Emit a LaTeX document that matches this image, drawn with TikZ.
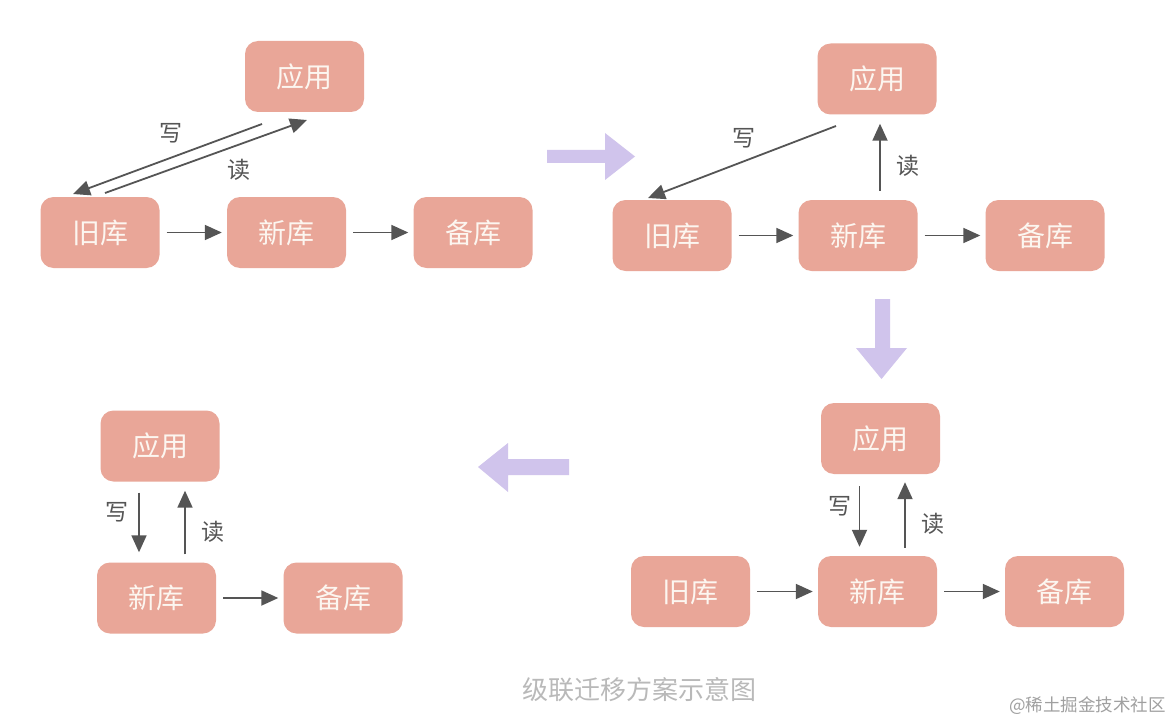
\documentclass[tikz,border=0pt]{standalone}
\usepackage{fontspec}
\setmainfont{Noto Sans CJK SC}
\newfontfamily\cjk{Noto Sans CJK SC}
\usetikzlibrary{arrows.meta}
\definecolor{boxfill}{RGB}{233,166,152}
\definecolor{boxtext}{RGB}{252,246,240}
\definecolor{arrgray}{RGB}{85,85,85}
\definecolor{bigarr}{RGB}{208,196,236}
\definecolor{captiongray}{RGB}{185,185,185}
\definecolor{wmgray}{RGB}{160,160,160}
\tikzset{
  dbbox/.style={rectangle, rounded corners=13pt, fill=boxfill, draw=none,
    minimum width=119pt, minimum height=71pt, inner sep=0pt,
    text=boxtext, font=\cjk\fontsize{28}{28}\selectfont},
  arr/.style={draw=arrgray, line width=1.8pt,
    -{Triangle[length=17pt 0 0,width=15pt 0 0]}},
  harr/.style={arr, shorten <=7pt, shorten >=5pt},
  lbl/.style={text=arrgray, font=\cjk\fontsize{23}{23}\selectfont, inner sep=0pt},
  bigarrow/.style={fill=bigarr, draw=none}
}
\begin{document}
\begin{tikzpicture}[x=1pt,y=-1pt]
\useasboundingbox (0,0) rectangle (1174,722);
\fill[white] (0,0) rectangle (1174,722);

% ---------- Panel 1 ----------
\node[dbbox] (a1) at (304.5,76.5) {应用};
\node[dbbox] (o1) at (100,232.5) {旧库};
\node[dbbox] (n1) at (286.5,232.5) {新库};
\node[dbbox] (b1) at (473,232.5) {备库};
\draw[harr] (o1) -- (n1);
\draw[harr] (n1) -- (b1);
\coordinate (w1s) at (262,124);
\coordinate (w1e) at (73,194);
\coordinate (r1s) at (105,193);
\coordinate (r1e) at (307,120);
\draw[arr] (w1s) -- (w1e);
\draw[arr] (r1s) -- (r1e);
\node[lbl] (wl1) at (171,133) {写};
\node[lbl] (rl1) at (239,170) {读};

% ---------- Panel 2 ----------
\node[dbbox] (a2) at (877,79) {应用};
\node[dbbox] (o2) at (672,235.5) {旧库};
\node[dbbox] (n2) at (858,235.5) {新库};
\node[dbbox] (b2) at (1045,235.5) {备库};
\draw[harr] (o2) -- (n2);
\draw[harr] (n2) -- (b2);
\coordinate (w2s) at (836,126);
\coordinate (w2e) at (648,198);
\draw[arr] (w2s) -- (w2e);
\draw[arr, shorten <=9pt, shorten >=9pt] ([xshift=3pt]a2.south |- n2.north) -- ([xshift=3pt]a2.south);
\node[lbl] (wl2) at (744,138) {写};
\node[lbl] (rl2) at (908,166) {读};

% ---------- Panel 3 ----------
\node[dbbox] (a3) at (880.5,438.5) {应用};
\node[dbbox] (o3) at (690.5,591.5) {旧库};
\node[dbbox] (n3) at (877.5,591.5) {新库};
\node[dbbox] (b3) at (1064.5,591.5) {备库};
\draw[harr] (o3) -- (n3);
\draw[harr] (n3) -- (b3);
\draw[arr, shorten <=12pt, shorten >=9pt] ([xshift=-21pt]a3.south) -- ([xshift=-21pt]a3.south |- n3.north);
\draw[arr, shorten <=8pt, shorten >=8pt] ([xshift=24.5pt]a3.south |- n3.north) -- ([xshift=24.5pt]a3.south);
\node[lbl] (wl3) at (840,506) {写};
\node[lbl] (rl3) at (933,524) {读};

% ---------- Panel 4 ----------
\node[dbbox] (a4) at (160,446) {应用};
\node[dbbox] (n4) at (156.5,598) {新库};
\node[dbbox] (b4) at (343,598) {备库};
\draw[harr] (n4) -- (b4);
\draw[arr, shorten <=11pt, shorten >=10pt] ([xshift=-21pt]a4.south) -- ([xshift=-21pt]a4.south |- n4.north);
\draw[arr, shorten <=8pt, shorten >=9pt] ([xshift=25pt]a4.south |- n4.north) -- ([xshift=25pt]a4.south);
\node[lbl] (wl4) at (117,512) {写};
\node[lbl] (rl4) at (213,532) {读};

% ---------- Big transition arrows ----------
\fill[bigarrow] (547,150) -- (605,150) -- (605,133) -- (635,156.5) -- (605,180) -- (605,163) -- (547,163) -- cycle;
\fill[bigarrow] (875,299) -- (890,299) -- (890,348) -- (907,348) -- (881.5,379) -- (856,348) -- (875,348) -- cycle;
\fill[bigarrow] (569,459) -- (508,459) -- (508,443) -- (478,467) -- (508,492) -- (508,475) -- (569,475) -- cycle;

% ---------- Caption and watermark ----------
\node[text=captiongray, font=\cjk\fontsize{26}{26}\selectfont, inner sep=0pt] (cap) at (639,690) {级联迁移方案示意图};
\node[text=wmgray, font=\cjk\fontsize{17.5}{17.5}\selectfont, inner sep=0pt, anchor=east] (wm) at (1166,706) {@稀土掘金技术社区};
\end{tikzpicture}
\end{document}
